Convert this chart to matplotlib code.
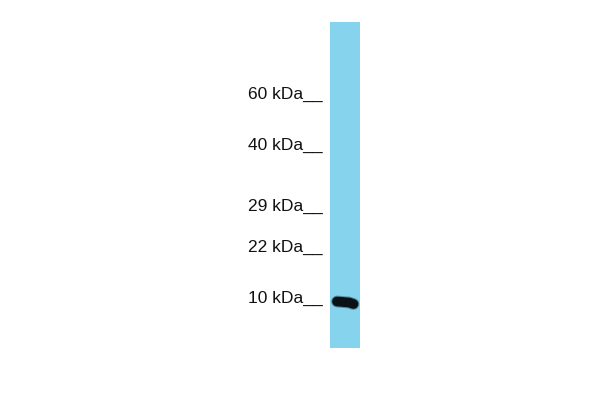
import matplotlib
matplotlib.use("Agg")
import matplotlib.pyplot as plt
from matplotlib.patches import Rectangle

# marker ladder (label, pixel row of the tick)
marker_labels = ["60 kDa", "40 kDa", "29 kDa", "22 kDa", "10 kDa"]
marker_rows = [99, 150, 211, 252, 303]

# lane extent and the single band
lane_x = (330, 360)
lane_y = (22, 348)
band_x = [337, 343, 349, 353.5]
band_y = [301.5, 302, 302.5, 304]

plt.rcParams['font.family'] = ['Liberation Sans', 'DejaVu Sans']

fig = plt.figure(figsize=(6, 4), dpi=100)
ax = fig.add_axes([0, 0, 1, 1])
ax.set_xlim(0, 600)
ax.set_ylim(400, 0)
ax.axis('off')

ax.add_patch(Rectangle((lane_x[0], lane_y[0]), lane_x[1] - lane_x[0],
                       lane_y[1] - lane_y[0], color='#86d3ee', lw=0))

# band: thick dark stroke with a soft edge
ax.plot(band_x, band_y, color='#2a4e5c', lw=8.5, solid_capstyle='round', alpha=0.5)
ax.plot(band_x, band_y, color='#0a1216', lw=7, solid_capstyle='round')

for lab, row in zip(marker_labels, marker_rows):
    ax.text(323, row, lab + "__", ha='right', va='baseline', fontsize=12.5, color='#111111')

fig.savefig("out.png", dpi=100)
